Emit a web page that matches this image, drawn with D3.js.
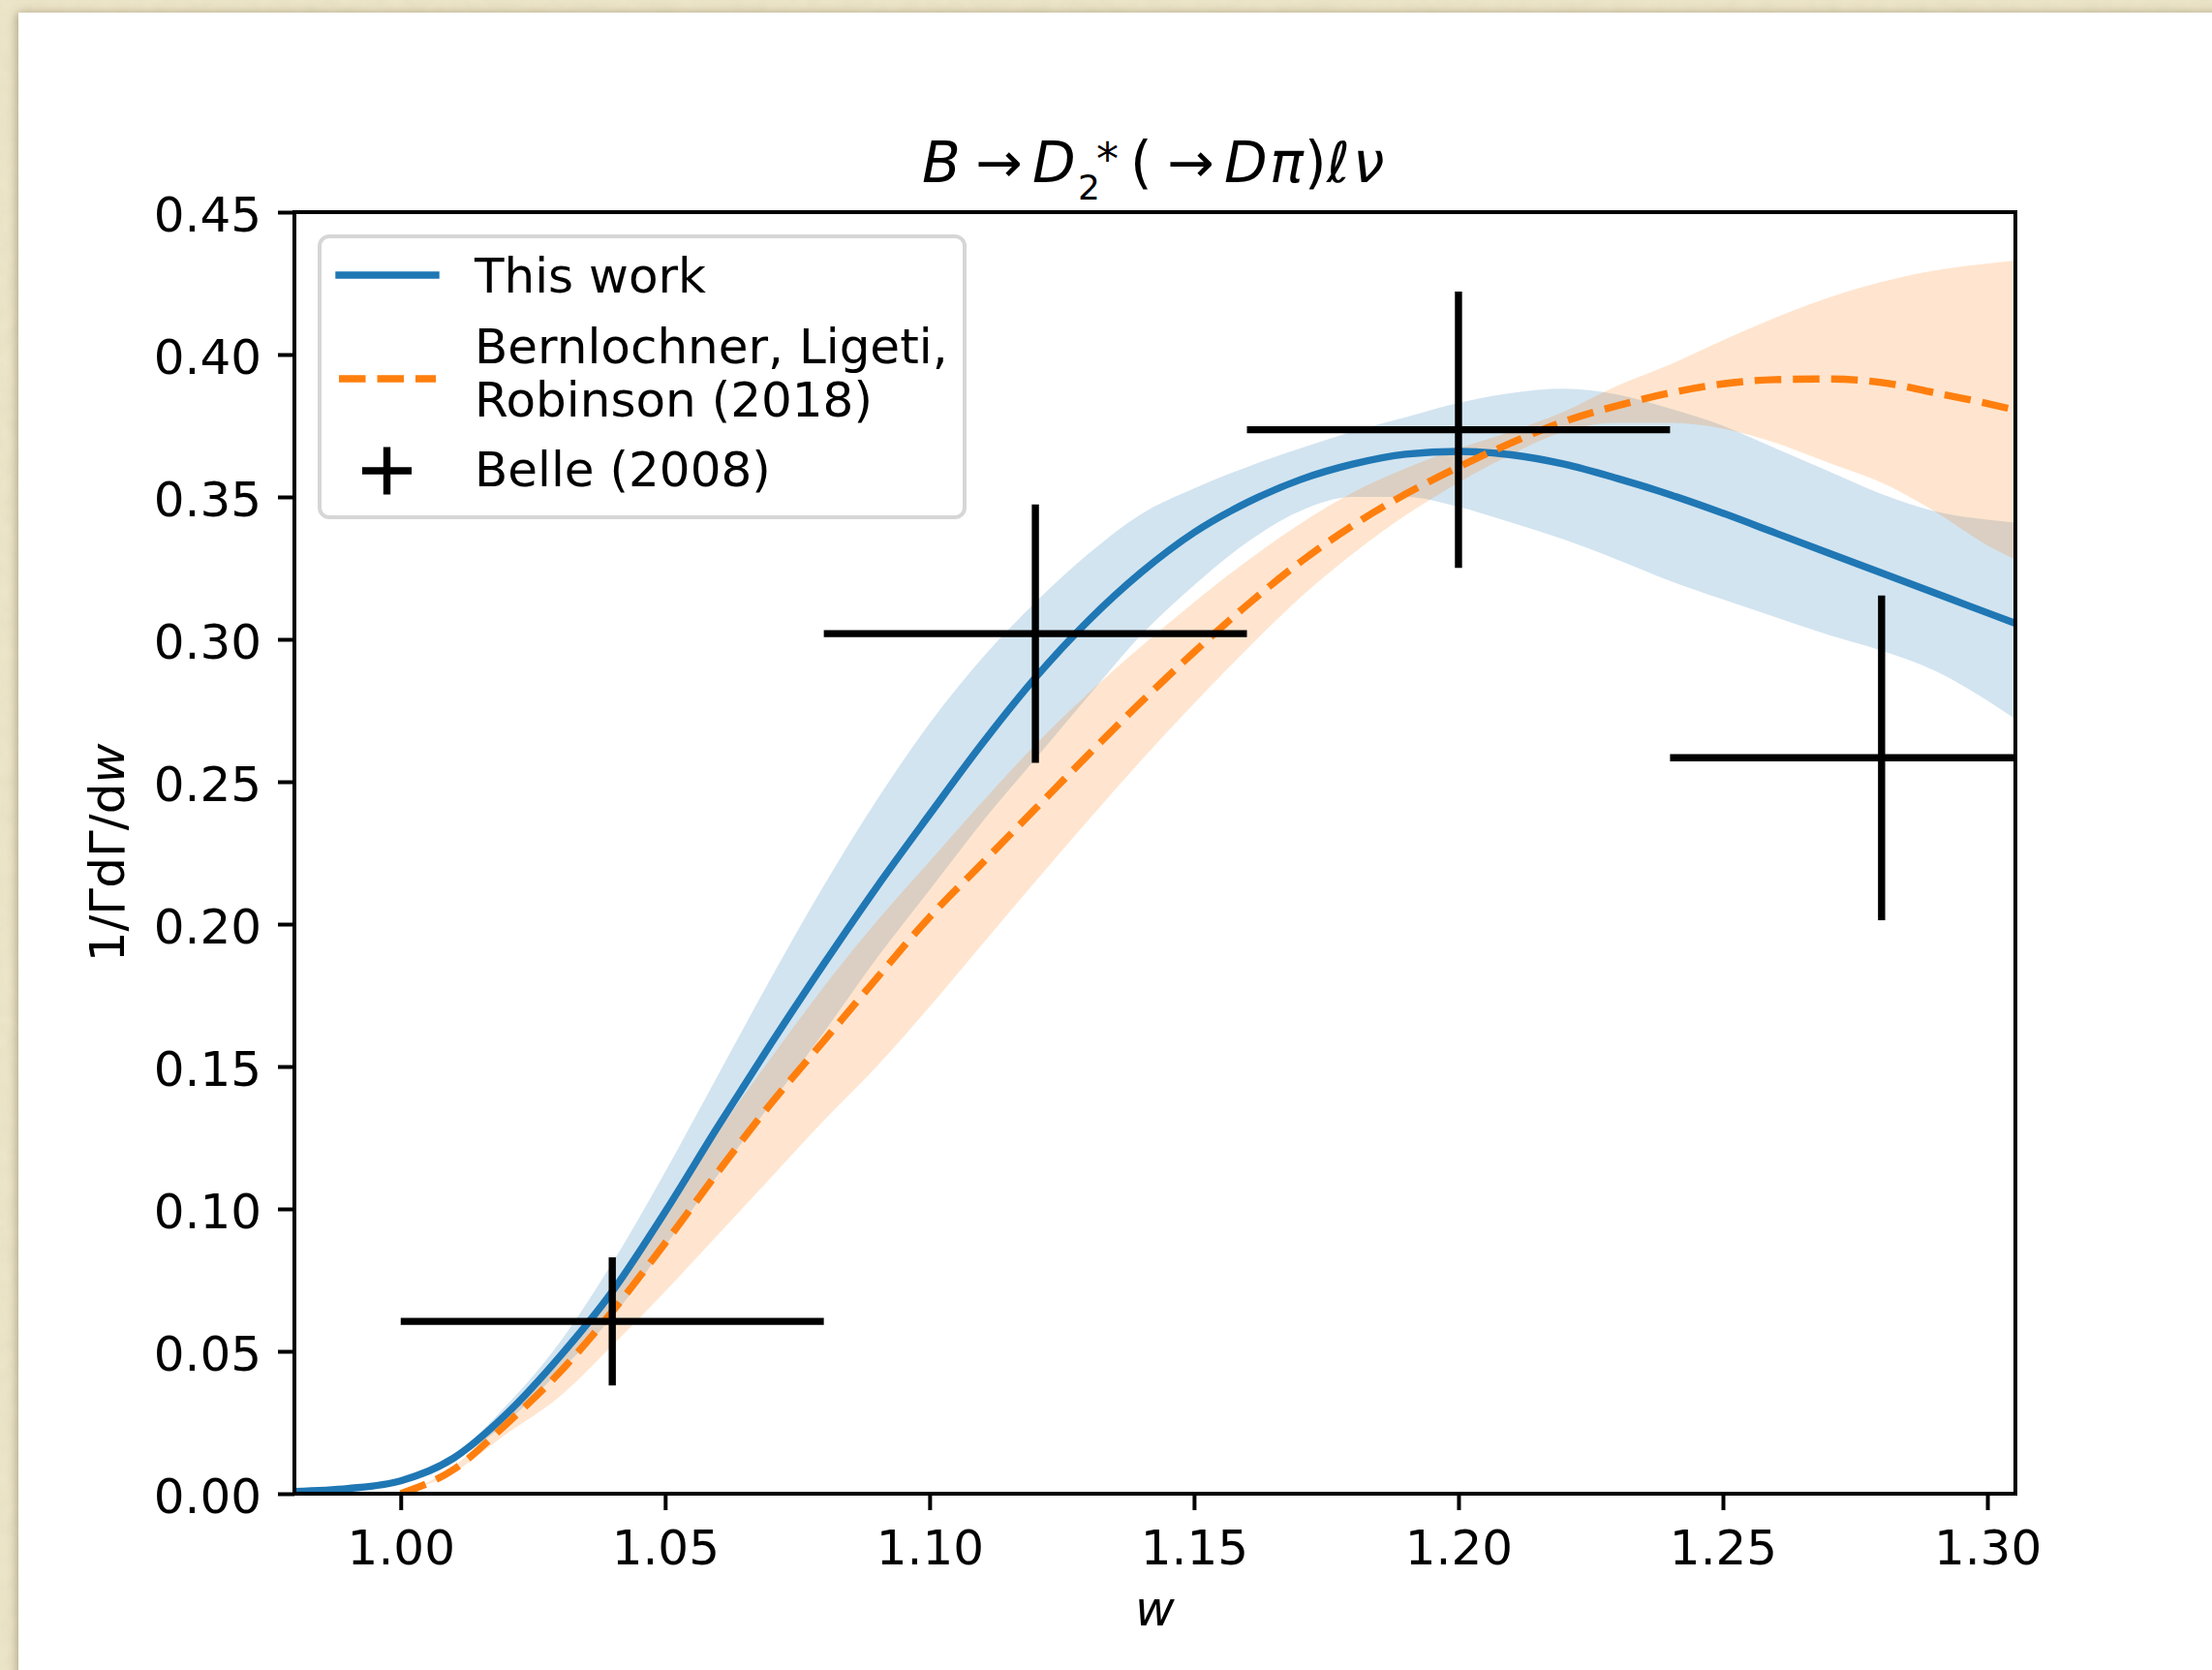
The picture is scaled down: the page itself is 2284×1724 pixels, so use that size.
<!DOCTYPE html>
<html><head><meta charset="utf-8">
<script src="https://cdn.jsdelivr.net/npm/d3@7"></script>
<style>html,body{margin:0;padding:0;background:#fff;} svg{display:block;}</style>
</head><body>
<svg id="chart" width="2284" height="1724"></svg>
<script>
// ---------------- DATA ----------------
const xTicks = [1.00, 1.05, 1.10, 1.15, 1.20, 1.25, 1.30];
const yTicks = [0.00, 0.05, 0.10, 0.15, 0.20, 0.25, 0.30, 0.35, 0.40, 0.45];

// "This work" (blue): w grid, central value, band
const wGrid = [0.98, 0.99, 1.00, 1.01, 1.02, 1.03, 1.04, 1.05, 1.06, 1.07, 1.08, 1.09, 1.10, 1.11, 1.12, 1.13, 1.14, 1.15, 1.16, 1.17, 1.18, 1.19, 1.20, 1.21, 1.22, 1.23, 1.24, 1.25, 1.26, 1.27, 1.28, 1.29, 1.30, 1.3053];
const thisWork   = [0.0008, 0.0018, 0.0045, 0.0125, 0.028, 0.048, 0.071, 0.099, 0.129, 0.158, 0.186, 0.213, 0.2385, 0.2635, 0.2865, 0.3065, 0.3235, 0.3375, 0.348, 0.356, 0.3615, 0.365, 0.366, 0.3648, 0.3615, 0.3565, 0.3508, 0.3443, 0.3373, 0.3303, 0.3233, 0.3163, 0.3093, 0.3056];
const thisWorkHi = [0.0010, 0.0021, 0.0050, 0.0135, 0.031, 0.053, 0.081, 0.113, 0.147, 0.181, 0.2135, 0.2435, 0.2705, 0.2935, 0.313, 0.330, 0.344, 0.353, 0.3605, 0.367, 0.373, 0.378, 0.383, 0.3865, 0.388, 0.386, 0.381, 0.375, 0.367, 0.359, 0.351, 0.345, 0.342, 0.341];
const thisWorkLo = [0.0006, 0.0016, 0.0040, 0.0115, 0.025, 0.043, 0.062, 0.087, 0.112, 0.137, 0.162, 0.188, 0.212, 0.236, 0.258, 0.280, 0.3015, 0.319, 0.334, 0.345, 0.350, 0.350, 0.3465, 0.341, 0.335, 0.328, 0.3205, 0.314, 0.3077, 0.3015, 0.296, 0.289, 0.2785, 0.272];

// Bernlochner, Ligeti, Robinson (2018) (orange)
const blrW  = [1.00, 1.01, 1.02, 1.03, 1.04, 1.05, 1.06, 1.07, 1.08, 1.09, 1.10, 1.11, 1.12, 1.13, 1.14, 1.15, 1.16, 1.17, 1.18, 1.19, 1.20, 1.21, 1.22, 1.23, 1.24, 1.25, 1.26, 1.27, 1.28, 1.29, 1.30, 1.3053];
const blr   = [0.0, 0.0085, 0.0245, 0.0425, 0.064, 0.088, 0.113, 0.137, 0.159, 0.181, 0.2025, 0.2215, 0.2405, 0.2595, 0.278, 0.2955, 0.312, 0.327, 0.340, 0.351, 0.3605, 0.369, 0.3765, 0.382, 0.3865, 0.3897, 0.3912, 0.3914, 0.3902, 0.3866, 0.3828, 0.3805];
const blrHi = [0.0, 0.0095, 0.0275, 0.048, 0.072, 0.099, 0.127, 0.153, 0.178, 0.201, 0.222, 0.243, 0.263, 0.281, 0.2975, 0.313, 0.3275, 0.3405, 0.3515, 0.360, 0.367, 0.373, 0.380, 0.389, 0.3965, 0.405, 0.413, 0.420, 0.4255, 0.4295, 0.432, 0.433];
const blrLo = [0.0, 0.0075, 0.021, 0.034, 0.052, 0.071, 0.091, 0.111, 0.131, 0.150, 0.171, 0.193, 0.215, 0.2365, 0.2575, 0.2775, 0.2965, 0.3145, 0.330, 0.3435, 0.355, 0.365, 0.373, 0.376, 0.376, 0.374, 0.369, 0.362, 0.355, 0.345, 0.333, 0.328];

// Belle (2008)
const belleW    = [1.04, 1.12, 1.20, 1.28];
const belleXErr = [0.04, 0.04, 0.04, 0.04];
const belleV    = [0.0605, 0.302, 0.3736, 0.2584];
const belleYErr = [0.0225, 0.0454, 0.0485, 0.057];

const legendLabels = ["This work", ["Bernlochner, Ligeti,", "Robinson (2018)"], "Belle (2008)"];

// ---------------- DRAW ----------------
const FONT = "'DejaVu Sans', sans-serif";
const W = 2284, H = 1724;
const svg = d3.select('#chart');
const defs = svg.append('defs');

// parchment background
const noise = defs.append('filter').attr('id', 'paper').attr('x', 0).attr('y', 0).attr('width', '100%').attr('height', '100%');
noise.append('feTurbulence').attr('type', 'fractalNoise').attr('baseFrequency', 0.06).attr('numOctaves', 3).attr('seed', 4).attr('result', 'n');
noise.append('feColorMatrix').attr('in', 'n').attr('type', 'matrix')
  .attr('values', '0 0 0 0 0.55  0 0 0 0 0.5  0 0 0 0 0.35  0 0 0 0.35 0');
svg.append('rect').attr('width', W).attr('height', H).attr('fill', '#efe7cb');
svg.append('rect').attr('width', W).attr('height', H).attr('filter', 'url(#paper)').attr('opacity', 0.5);

const shadow = defs.append('filter').attr('id', 'shadow').attr('x', '-5%').attr('y', '-5%').attr('width', '110%').attr('height', '110%');
shadow.append('feDropShadow').attr('dx', -2).attr('dy', 0).attr('stdDeviation', 5).attr('flood-color', '#6b5e3a').attr('flood-opacity', 0.45);
svg.append('rect').attr('x', 19).attr('y', 13).attr('width', W + 40).attr('height', H + 40)
  .attr('fill', '#ffffff').attr('filter', 'url(#shadow)');

const L = 304, R = 2081, T = 219, B = 1542;
const x = d3.scaleLinear().domain([0.9799, 1.3053]).range([L, R]);
const y = d3.scaleLinear().domain([0, 0.45]).range([B, T]);

defs.append('clipPath').attr('id', 'plotclip')
  .append('rect').attr('x', L).attr('y', T).attr('width', R - L).attr('height', B - T);

const plot = svg.append('g').attr('clip-path', 'url(#plotclip)');
const BLUE = '#1f77b4', ORANGE = '#ff7f0e';
const LW = 7.4;

const idxTW = d3.range(wGrid.length);
const idxB = d3.range(blrW.length);

const areaTW = d3.area().x(i => x(wGrid[i])).y0(i => y(thisWorkLo[i])).y1(i => y(thisWorkHi[i])).curve(d3.curveMonotoneX);
const areaB = d3.area().x(i => x(blrW[i])).y0(i => y(blrLo[i])).y1(i => y(blrHi[i])).curve(d3.curveMonotoneX);
const lineTW = d3.line().x(i => x(wGrid[i])).y(i => y(thisWork[i])).curve(d3.curveMonotoneX);
const lineB = d3.line().x(i => x(blrW[i])).y(i => y(blr[i])).curve(d3.curveMonotoneX);

plot.append('path').datum(idxTW).attr('d', areaTW).attr('fill', BLUE).attr('fill-opacity', 0.2);
plot.append('path').datum(idxB).attr('d', areaB).attr('fill', ORANGE).attr('fill-opacity', 0.2);
plot.append('path').datum(idxTW).attr('d', lineTW).attr('fill', 'none').attr('stroke', BLUE)
  .attr('stroke-width', LW).attr('stroke-linejoin', 'round');
plot.append('path').datum(idxB).attr('d', lineB).attr('fill', 'none').attr('stroke', ORANGE)
  .attr('stroke-width', LW).attr('stroke-dasharray', '27.5,12').attr('stroke-linecap', 'butt');

// Belle error bars
const eb = plot.append('g');
belleW.forEach((w, i) => {
  eb.append('line').attr('x1', x(w - belleXErr[i])).attr('x2', x(w + belleXErr[i]))
    .attr('y1', y(belleV[i])).attr('y2', y(belleV[i])).attr('stroke', '#000').attr('stroke-width', LW);
  eb.append('line').attr('x1', x(w)).attr('x2', x(w))
    .attr('y1', y(belleV[i] - belleYErr[i])).attr('y2', y(belleV[i] + belleYErr[i])).attr('stroke', '#000').attr('stroke-width', LW);
});

// Axes
const xAxis = svg.append('g').attr('transform', `translate(0,${B})`)
  .call(d3.axisBottom(x).tickValues(xTicks).tickFormat(d3.format('.2f')).tickSize(17).tickPadding(20));
const yAxis = svg.append('g').attr('transform', `translate(${L},0)`)
  .call(d3.axisLeft(y).tickValues(yTicks).tickFormat(d3.format('.2f')).tickSize(17).tickPadding(17));
[xAxis, yAxis].forEach(a => {
  a.select('.domain').remove();
  a.selectAll('.tick line').attr('stroke', '#000').attr('stroke-width', 4);
  a.selectAll('.tick text').attr('fill', '#000').attr('font-family', FONT).attr('font-size', 50);
});
xAxis.selectAll('.tick text').attr('y', 73).attr('dy', 0);
yAxis.selectAll('.tick text').attr('dy', 19.5);

// spines
svg.append('rect').attr('x', L).attr('y', T).attr('width', R - L).attr('height', B - T)
  .attr('fill', 'none').attr('stroke', '#000').attr('stroke-width', 4);

// axis labels
svg.append('text').attr('x', 1192.5).attr('y', 1678).attr('text-anchor', 'middle')
  .attr('font-family', FONT).attr('font-size', 50).attr('font-style', 'italic').text('w');
const yl = svg.append('text').attr('transform', 'translate(128,880.5) rotate(-90)').attr('text-anchor', 'middle')
  .attr('font-family', FONT).attr('font-size', 50);
yl.append('tspan').text('1/ΓdΓ/d');
yl.append('tspan').attr('font-style', 'italic').text('w');

// title (mathtext-like)
const tg = svg.append('g').attr('font-family', FONT).attr('fill', '#000');
const tpieces = [
  {t: 'B', x: 952, y: 188, s: 58, it: true},
  {t: '→', x: 1007, y: 188, s: 58, it: false},
  {t: 'D', x: 1066, y: 188, s: 58, it: true},
  {t: '2', x: 1113, y: 206, s: 36, it: false},
  {t: '*', x: 1132, y: 180, s: 46, it: false},
  {t: '(', x: 1167, y: 188, s: 58, it: false},
  {t: '→', x: 1205, y: 188, s: 58, it: false},
  {t: 'D', x: 1264, y: 188, s: 58, it: true},
  {t: 'π', x: 1311, y: 188, s: 58, it: true},
  {t: ')', x: 1347, y: 188, s: 58, it: false},
  {t: 'ℓ', x: 1370, y: 188, s: 58, it: true},
  {t: 'ν', x: 1397, y: 188, s: 58, it: true}
];
tpieces.forEach(p => {
  tg.append('text').attr('x', p.x).attr('y', p.y).attr('font-size', p.s)
    .attr('font-style', p.it ? 'italic' : 'normal').text(p.t);
});

// legend
const lg = svg.append('g');
lg.append('rect').attr('x', 330).attr('y', 244).attr('width', 666).attr('height', 290).attr('rx', 10)
  .attr('fill', '#fff').attr('fill-opacity', 0.8).attr('stroke', '#cccccc').attr('stroke-opacity', 0.8).attr('stroke-width', 4);
lg.append('line').attr('x1', 350).attr('x2', 450).attr('y1', 284).attr('y2', 284)
  .attr('stroke', BLUE).attr('stroke-width', LW).attr('stroke-linecap', 'square');
lg.append('line').attr('x1', 350).attr('x2', 450).attr('y1', 391).attr('y2', 391)
  .attr('stroke', ORANGE).attr('stroke-width', LW).attr('stroke-dasharray', '27.5,12');
lg.append('line').attr('x1', 374).attr('x2', 425).attr('y1', 486).attr('y2', 486).attr('stroke', '#000').attr('stroke-width', LW);
lg.append('line').attr('x1', 399.5).attr('x2', 399.5).attr('y1', 461.5).attr('y2', 510.5).attr('stroke', '#000').attr('stroke-width', LW);
const lt = lg.append('g').attr('font-family', FONT).attr('font-size', 50).attr('fill', '#000');
lt.append('text').attr('x', 490).attr('y', 302).text(legendLabels[0]);
lt.append('text').attr('x', 490).attr('y', 375).text(legendLabels[1][0]);
lt.append('text').attr('x', 490).attr('y', 430).text(legendLabels[1][1]);
lt.append('text').attr('x', 490).attr('y', 502).text(legendLabels[2]);
</script>
</body></html>
